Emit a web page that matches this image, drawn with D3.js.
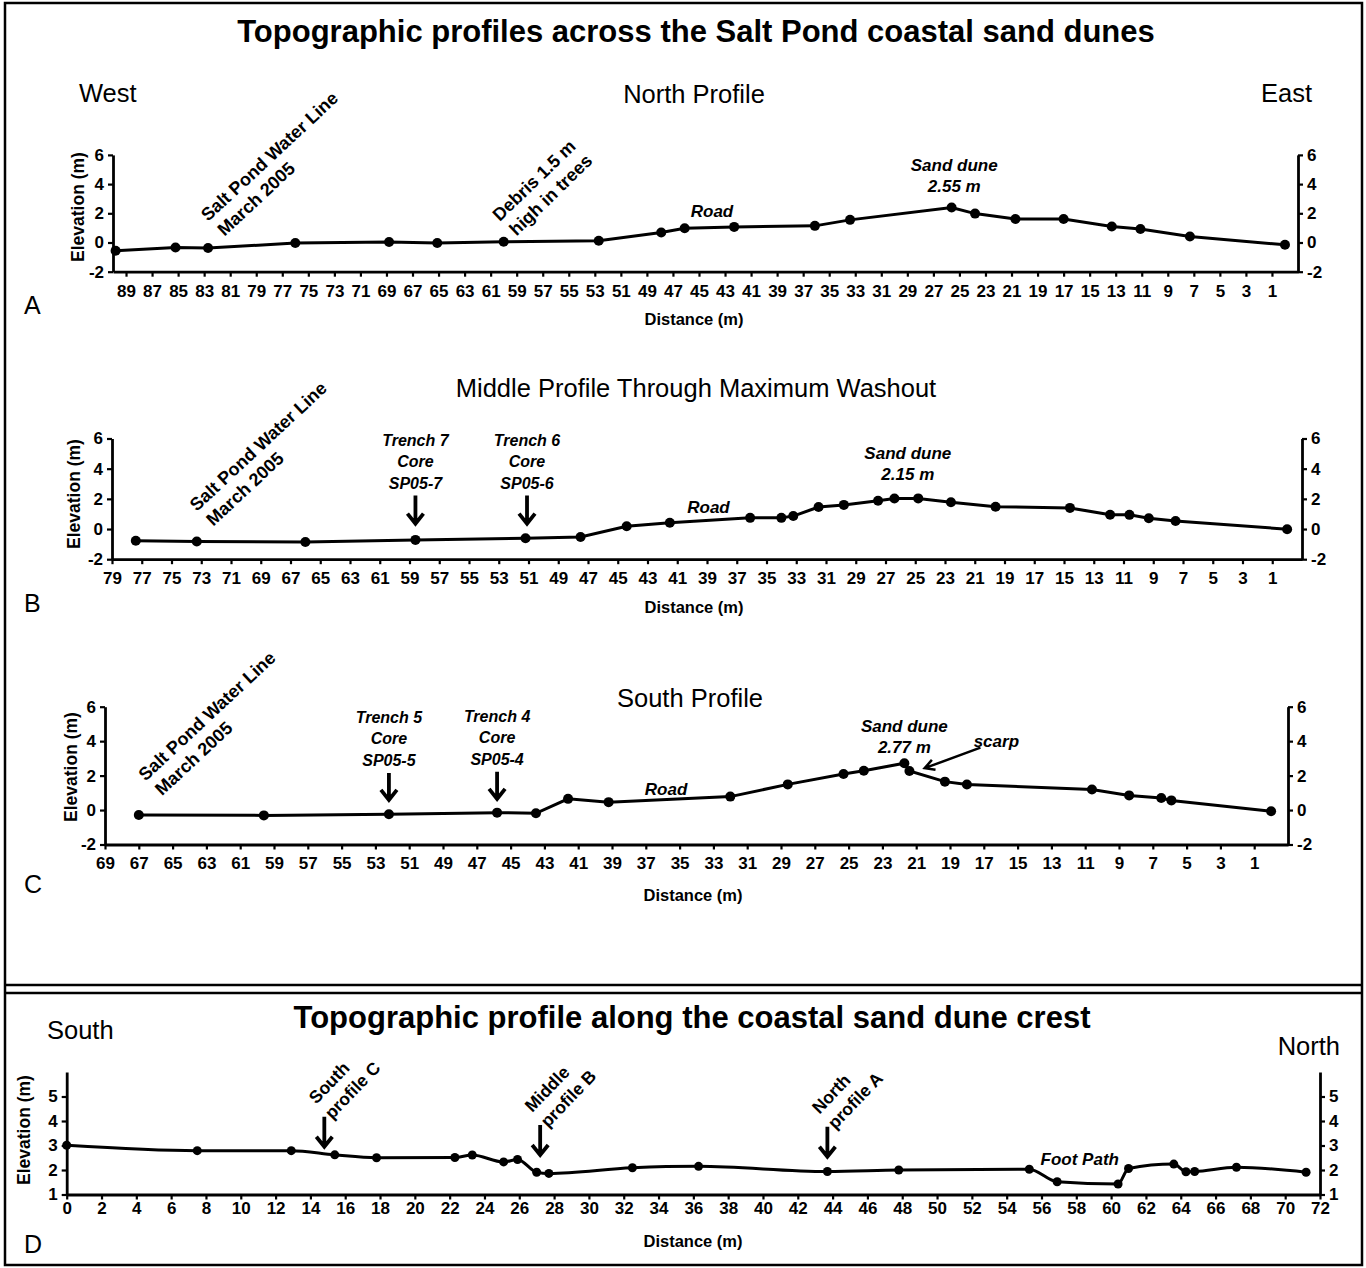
<!DOCTYPE html>
<html>
<head>
<meta charset="utf-8">
<script src="https://cdn.jsdelivr.net/npm/d3@7"></script>
<style>
  body { margin: 0; background: #fff; }
  svg { display: block; font-family: "Liberation Sans", Arial, sans-serif; }
  .axis path { stroke: #000; stroke-width: 2.8; }
  .axis line { stroke: #000; stroke-width: 2.2; }
  .axis text { font-family: "Liberation Sans", Arial, sans-serif; font-weight: bold; font-size: 17px; fill: #000; }
</style>
</head>
<body>
<svg id="chart" width="1366" height="1268"></svg>
<script>
// North profile (A): distance from east end (m), elevation (m)
var northDist = [89.8, 85.2, 82.7, 76.0, 68.8, 65.1, 60.0, 52.7, 47.9, 46.1, 42.3, 36.1, 33.4, 25.6, 23.8, 20.7, 17.0, 13.3, 11.1, 7.3, 0.0];
var northElev = [-0.57, -0.34, -0.38, -0.04, 0.03, -0.04, 0.05, 0.12, 0.68, 0.98, 1.07, 1.14, 1.55, 2.40, 1.98, 1.61, 1.61, 1.10, 0.92, 0.41, -0.16];

// Middle profile (B)
var middleDist = [77.4, 73.3, 66.0, 58.6, 51.2, 47.5, 44.4, 41.5, 36.1, 34.0, 33.2, 31.5, 29.8, 27.5, 26.4, 24.8, 22.6, 19.6, 14.6, 11.9, 10.6, 9.3, 7.5, 0.0];
var middleElev = [-0.78, -0.83, -0.86, -0.72, -0.61, -0.53, 0.18, 0.42, 0.74, 0.74, 0.86, 1.46, 1.60, 1.87, 2.02, 2.03, 1.78, 1.48, 1.40, 0.95, 0.94, 0.72, 0.53, -0.01];

// South profile (C)
var southDist = [67.0, 59.6, 52.2, 45.8, 43.5, 41.6, 39.2, 32.0, 28.6, 25.3, 24.1, 21.7, 21.4, 19.3, 18.0, 10.6, 8.4, 6.5, 5.9, 0.0];
var southElev = [-0.29, -0.31, -0.24, -0.15, -0.19, 0.65, 0.46, 0.78, 1.49, 2.09, 2.28, 2.72, 2.27, 1.65, 1.48, 1.19, 0.85, 0.70, 0.56, -0.07];

// Dune crest profile (D), south to north
var crestDist = [0.0, 7.5, 12.9, 15.4, 17.8, 22.3, 23.3, 25.1, 25.9, 27.0, 27.7, 32.5, 36.3, 43.7, 47.8, 55.3, 56.9, 60.4, 61.0, 63.6, 64.3, 64.8, 67.2, 71.2];
var crestElev = [3.01, 2.79, 2.79, 2.62, 2.50, 2.51, 2.61, 2.33, 2.43, 1.91, 1.86, 2.09, 2.15, 1.94, 2.00, 2.03, 1.52, 1.43, 2.06, 2.24, 1.93, 1.94, 2.11, 1.91];

// tick labels
var northTicks = [89, 87, 85, 83, 81, 79, 77, 75, 73, 71, 69, 67, 65, 63, 61, 59, 57, 55, 53, 51, 49, 47, 45, 43, 41, 39, 37, 35, 33, 31, 29, 27, 25, 23, 21, 19, 17, 15, 13, 11, 9, 7, 5, 3, 1];
var middleTicks = [79, 77, 75, 73, 71, 69, 67, 65, 63, 61, 59, 57, 55, 53, 51, 49, 47, 45, 43, 41, 39, 37, 35, 33, 31, 29, 27, 25, 23, 21, 19, 17, 15, 13, 11, 9, 7, 5, 3, 1];
var southTicks = [69, 67, 65, 63, 61, 59, 57, 55, 53, 51, 49, 47, 45, 43, 41, 39, 37, 35, 33, 31, 29, 27, 25, 23, 21, 19, 17, 15, 13, 11, 9, 7, 5, 3, 1];
var crestTicks = [0, 2, 4, 6, 8, 10, 12, 14, 16, 18, 20, 22, 24, 26, 28, 30, 32, 34, 36, 38, 40, 42, 44, 46, 48, 50, 52, 54, 56, 58, 60, 62, 64, 66, 68, 70, 72];
var elevTicks = [-2, 0, 2, 4, 6];
var crestElevTicks = [1, 2, 3, 4, 5];

var svg = d3.select('#chart');

function label(x, y, s, size, opt) {
  opt = opt || {};
  return svg.append('text')
    .attr('x', x).attr('y', y)
    .attr('text-anchor', opt.anchor || 'start')
    .attr('font-size', size + 'px')
    .attr('font-weight', opt.weight || 'normal')
    .attr('font-style', opt.style || 'normal')
    .attr('fill', '#000')
    .text(s);
}

function zip(a, b) {
  return a.map(function (d, i) { return [d, b[i]]; });
}

function drawProfile(cfg) {
  var x = d3.scaleLinear().domain(cfg.xDomain).range(cfg.xRange);
  var y = d3.scaleLinear().domain(cfg.yDomain).range(cfg.yRange);
  var g = svg.append('g');

  g.append('g').attr('class', 'axis')
    .attr('transform', 'translate(0,' + cfg.yRange[0] + ')')
    .call(d3.axisBottom(x).tickValues(cfg.xTicks).tickSize(5).tickPadding(cfg.xPad).tickSizeOuter(0).tickFormat(String));

  g.append('g').attr('class', 'axis')
    .attr('transform', 'translate(' + cfg.xRange[0] + ',0)')
    .call(d3.axisLeft(y).tickValues(cfg.yTicks).tickSize(5).tickPadding(4).tickSizeOuter(0).tickFormat(String));

  g.append('g').attr('class', 'axis')
    .attr('transform', 'translate(' + cfg.xRange[1] + ',0)')
    .call(d3.axisRight(y).tickValues(cfg.yTicks).tickSize(5).tickPadding(4).tickSizeOuter(0).tickFormat(String));

  var pts = zip(cfg.dist, cfg.elev);
  var line = d3.line()
    .x(function (d) { return x(d[0]); })
    .y(function (d) { return y(d[1]); })
    .curve(cfg.curve || d3.curveLinear);

  g.append('path').datum(pts)
    .attr('d', line)
    .attr('fill', 'none')
    .attr('stroke', '#000')
    .attr('stroke-width', 3);

  g.selectAll('circle').data(pts).enter().append('circle')
    .attr('cx', function (d) { return x(d[0]); })
    .attr('cy', function (d) { return y(d[1]); })
    .attr('r', cfg.r || 5)
    .attr('fill', '#000');

  // axis titles
  svg.append('text')
    .attr('transform', 'translate(' + cfg.yLabelX + ',' + cfg.yLabelY + ') rotate(-90)')
    .attr('text-anchor', 'middle')
    .attr('font-size', '17.5px').attr('font-weight', 'bold')
    .text('Elevation (m)');
  label(cfg.xLabelX, cfg.xLabelY, 'Distance (m)', 16.5, { anchor: 'middle', weight: 'bold' });
  label(24, cfg.letterY, cfg.letter, 25);

  return { x: x, y: y, g: g };
}

function rotLabel(g, px, py, angle, lines, size, opt) {
  opt = opt || {};
  var t = g.append('text')
    .attr('transform', 'translate(' + px + ',' + py + ') rotate(' + angle + ')')
    .attr('font-size', size + 'px')
    .attr('font-weight', opt.weight || 'bold')
    .attr('font-style', opt.style || 'normal');
  lines.forEach(function (s, i) {
    t.append('tspan').attr('x', i ? (opt.indent || 0) : 0).attr('dy', i ? (opt.lh || 22) : 0).text(s);
  });
}

function arrowDown(g, ax, tipY, len) {
  g.append('path')
    .attr('d', 'M' + ax + ',' + (tipY - len) + 'V' + tipY + 'M' + (ax - 8) + ',' + (tipY - 10) + 'L' + ax + ',' + tipY + 'L' + (ax + 8) + ',' + (tipY - 10))
    .attr('fill', 'none').attr('stroke', '#000').attr('stroke-width', 3.8);
}

function stackLabel(g, cx, baseY, lines, size, opt) {
  opt = opt || {};
  lines.forEach(function (s, i) {
    g.append('text')
      .attr('x', cx).attr('y', baseY + i * (opt.lh || 21.5))
      .attr('text-anchor', 'middle')
      .attr('font-size', size + 'px')
      .attr('font-weight', opt.weight || 'bold')
      .attr('font-style', opt.style || 'italic')
      .text(s);
  });
}

// frame
svg.append('rect').attr('x', 5).attr('y', 3).attr('width', 1357).attr('height', 1262)
  .attr('fill', 'none').attr('stroke', '#000').attr('stroke-width', 2.5);
svg.append('line').attr('x1', 5).attr('x2', 1362).attr('y1', 985).attr('y2', 985).attr('stroke', '#000').attr('stroke-width', 2.5);
svg.append('line').attr('x1', 5).attr('x2', 1362).attr('y1', 993).attr('y2', 993).attr('stroke', '#000').attr('stroke-width', 2.5);

// headings
label(696, 42, 'Topographic profiles across the Salt Pond coastal sand dunes', 31, { anchor: 'middle', weight: 'bold' });
label(79, 102, 'West', 25.5);
label(694, 103, 'North Profile', 25.5, { anchor: 'middle' });
label(1312, 102, 'East', 25.5, { anchor: 'end' });
label(696, 397, 'Middle Profile Through Maximum Washout', 25.5, { anchor: 'middle' });
label(690, 707, 'South Profile', 25.5, { anchor: 'middle' });
label(692, 1028, 'Topographic profile along the coastal sand dune crest', 31, { anchor: 'middle', weight: 'bold' });
label(47, 1039, 'South', 25.5);
label(1340, 1055, 'North', 25.5, { anchor: 'end' });

// A: North profile
var A = drawProfile({
  dist: northDist, elev: northElev,
  xDomain: [90, -1], xRange: [113, 1298],
  yDomain: [-2, 6], yRange: [271.7, 154.9],
  xTicks: northTicks, yTicks: elevTicks, xPad: 8,
  yLabelX: 84, yLabelY: 207, xLabelX: 694, xLabelY: 325, letter: 'A', letterY: 314
});
rotLabel(A.g, A.x(82.7), A.y(1.4), -43, ['Salt Pond Water Line', 'March 2005'], 18, { lh: 22, indent: 2 });
rotLabel(A.g, A.x(60.3), A.y(1.4), -44, ['Debris  1.5 m', 'high in trees'], 18, { lh: 22, indent: 2 });
stackLabel(A.g, A.x(44.0), A.y(1.75), ['Road'], 17);
stackLabel(A.g, A.x(25.4), A.y(4.9), ['Sand dune', '2.55 m'], 17, { lh: 21 });

// B: Middle profile
var B = drawProfile({
  dist: middleDist, elev: middleElev,
  xDomain: [79, -1], xRange: [112, 1302],
  yDomain: [-2, 6], yRange: [559.2, 438.5],
  xTicks: middleTicks, yTicks: elevTicks, xPad: 8,
  yLabelX: 80, yLabelY: 494, xLabelX: 694, xLabelY: 613, letter: 'B', letterY: 612
});
rotLabel(B.g, B.x(73.3), B.y(1.13), -43, ['Salt Pond Water Line', 'March 2005'], 18, { lh: 22, indent: 2 });
[[58.6, 0.36, ['Trench 7', 'Core', 'SP05-7']], [51.1, 0.36, ['Trench 6', 'Core', 'SP05-6']]].forEach(function (m) {
  var ax = B.x(m[0]), tip = B.y(m[1]);
  arrowDown(B.g, ax, tip, 28);
  stackLabel(B.g, ax, tip - 78, m[2], 16);
});
stackLabel(B.g, B.x(38.9), B.y(1.03), ['Road'], 17);
stackLabel(B.g, B.x(25.5), B.y(4.67), ['Sand dune', '2.15 m'], 17, { lh: 21.5 });

// C: South profile
var C = drawProfile({
  dist: southDist, elev: southElev,
  xDomain: [69, -1], xRange: [105, 1288],
  yDomain: [-2, 6], yRange: [844.5, 706.7],
  xTicks: southTicks, yTicks: elevTicks, xPad: 7,
  yLabelX: 77, yLabelY: 767, xLabelX: 693, xLabelY: 901, letter: 'C', letterY: 893
});
rotLabel(C.g, C.x(66.6), C.y(1.65), -43, ['Salt Pond Water Line', 'March 2005'], 18, { lh: 22, indent: 2 });
[[52.2, 0.59, ['Trench 5', 'Core', 'SP05-5']], [45.8, 0.65, ['Trench 4', 'Core', 'SP05-4']]].forEach(function (m) {
  var ax = C.x(m[0]), tip = C.y(m[1]);
  arrowDown(C.g, ax, tip, 27);
  stackLabel(C.g, ax, tip - 77, m[2], 16);
});
stackLabel(C.g, C.x(35.8), C.y(0.88), ['Road'], 17);
stackLabel(C.g, C.x(21.7), C.y(4.56), ['Sand dune', '2.77 m'], 17, { lh: 21.5 });
C.g.append('text').attr('x', C.x(17.6)).attr('y', C.y(3.65))
  .attr('font-size', '17px').attr('font-weight', 'bold').attr('font-style', 'italic').text('scarp');
(function () {
  var x0 = C.x(17.2), y0 = C.y(3.62), x1 = C.x(20.5), y1 = C.y(2.43);
  var a = Math.atan2(y1 - y0, x1 - x0), h = 11;
  C.g.append('path')
    .attr('d', 'M' + x0 + ',' + y0 + 'L' + x1 + ',' + y1 +
      'M' + (x1 - h * Math.cos(a - 0.5)) + ',' + (y1 - h * Math.sin(a - 0.5)) + 'L' + x1 + ',' + y1 +
      'L' + (x1 - h * Math.cos(a + 0.5)) + ',' + (y1 - h * Math.sin(a + 0.5)))
    .attr('fill', 'none').attr('stroke', '#000').attr('stroke-width', 2.5);
})();

// D: crest profile
var D = drawProfile({
  dist: crestDist, elev: crestElev,
  xDomain: [0, 72], xRange: [66.7, 1320],
  yDomain: [1, 6], yRange: [1194.5, 1072],
  xTicks: crestTicks, yTicks: crestElevTicks, xPad: 2, r: 4.5, curve: d3.curveMonotoneX,
  yLabelX: 30, yLabelY: 1130, xLabelX: 693, xLabelY: 1247, letter: 'D', letterY: 1253
});
[[14.8, 2.95, ['South', 'profile C']], [27.2, 2.61, ['Middle', 'profile B']], [43.7, 2.54, ['North', 'profile A']]].forEach(function (m) {
  var ax = D.x(m[0]), tip = D.y(m[1]);
  arrowDown(D.g, ax, tip, 30);
  rotLabel(D.g, ax - 8, tip - 42, -46, m[2], 17.5, { lh: 22 });
});
stackLabel(D.g, D.x(58.2), D.y(2.2), ['Foot Path'], 17);
</script>
</body>
</html>
